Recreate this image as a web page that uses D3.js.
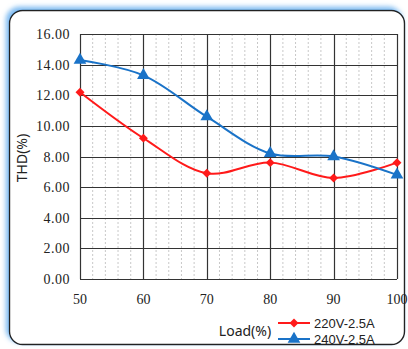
<!DOCTYPE html>
<html lang="en">
<head>
  <meta charset="UTF-8">
  <title>THD vs Load</title>
  <script src="https://d3js.org/d3.v7.min.js"></script>
  <style>
    body { margin: 0; background: #fff; }
    .tick-label { font-family: "Liberation Serif", serif; font-size: 14px; fill: #222; }
    .title { font-family: "Noto Sans", sans-serif; font-size: 14px; fill: #222; }
    .legend-label { font-family: "Liberation Sans", sans-serif; font-size: 13px; fill: #222; }
  </style>
</head>
<body>
  <div id="chart"></div>
  <script>
    const loads = [50, 60, 70, 80, 90, 100];
    const thd220 = [12.2, 9.2, 6.9, 7.6, 6.6, 7.6];
    const thd240 = [14.3, 13.3, 10.6, 8.2, 8.0, 6.8];
    const yTicks = [0, 2, 4, 6, 8, 10, 12, 14, 16];
    const seriesNames = ["220V-2.5A", "240V-2.5A"];

    const W = 408, H = 349;
    const plot = {left: 80, right: 397, top: 34, bottom: 279};

    const svg = d3.select("#chart").append("svg")
      .attr("width", W).attr("height", H);

    const defs = svg.append("defs");
    const glow = defs.append("filter").attr("id", "glow")
      .attr("x", "-10%").attr("y", "-10%").attr("width", "120%").attr("height", "120%");
    glow.append("feDropShadow").attr("dx", -3).attr("dy", -3)
      .attr("stdDeviation", 2.5).attr("flood-color", "#5aa8ee").attr("flood-opacity", 0.8);

    // card
    svg.append("rect")
      .attr("x", 9.5).attr("y", 10.5).attr("width", 395).attr("height", 334)
      .attr("rx", 13).attr("fill", "#fff").attr("stroke", "#222").attr("stroke-width", 1.4)
      .attr("filter", "url(#glow)");

    const x = d3.scaleLinear().domain([50, 100]).range([plot.left, plot.right]);
    const y = d3.scaleLinear().domain([0, 16]).range([plot.bottom, plot.top]);

    // minor dotted verticals
    const minor = d3.range(52, 100, 2).filter(v => v % 10 !== 0);
    svg.append("g").selectAll("line").data(minor).join("line")
      .attr("x1", d => x(d)).attr("x2", d => x(d))
      .attr("y1", plot.top).attr("y2", plot.bottom)
      .attr("stroke", "#c8c8c8").attr("stroke-width", 1)
      .attr("stroke-dasharray", "2,2");

    // major grid
    svg.append("g").selectAll("line").data(yTicks).join("line")
      .attr("x1", plot.left).attr("x2", plot.right)
      .attr("y1", d => Math.round(y(d)) + 0.5).attr("y2", d => Math.round(y(d)) + 0.5)
      .attr("stroke", "#333").attr("stroke-width", 1.2);
    svg.append("g").selectAll("line").data(loads).join("line")
      .attr("x1", d => Math.round(x(d)) + 0.5).attr("x2", d => Math.round(x(d)) + 0.5)
      .attr("y1", plot.top).attr("y2", plot.bottom)
      .attr("stroke", "#333").attr("stroke-width", 1.2);

    // tick labels
    svg.append("g").selectAll("text").data(yTicks).join("text")
      .attr("class", "tick-label")
      .attr("x", 70).attr("y", d => y(d) + 5)
      .attr("text-anchor", "end")
      .attr("letter-spacing", "0.5px")
      .text(d => d.toFixed(2));
    svg.append("g").selectAll("text").data(loads).join("text")
      .attr("class", "tick-label")
      .attr("x", d => x(d)).attr("y", 304)
      .attr("text-anchor", "middle")
      .text(d => d);

    // axis titles
    svg.append("text").attr("class", "title")
      .attr("transform", "translate(27,158) rotate(-90)")
      .attr("text-anchor", "middle").text("THD(%)");
    svg.append("text").attr("class", "title")
      .attr("x", 245).attr("y", 336).attr("text-anchor", "middle").text("Load(%)");

    const line = d3.line()
      .x((d, i) => x(loads[i])).y(d => y(d))
      .curve(d3.curveCatmullRom.alpha(0.5));

    const series = [
      {name: seriesNames[0], values: thd220, color: "#ff1a1a", marker: "diamond"},
      {name: seriesNames[1], values: thd240, color: "#1a73c8", marker: "triangle"}
    ];

    const markerPath = m => m === "diamond"
      ? d3.symbol().type(d3.symbolSquare).size(40)()
      : d3.symbol().type(d3.symbolTriangle).size(70)();
    const markerRot = m => m === "diamond" ? " rotate(45)" : "";

    series.forEach(s => {
      svg.append("path").datum(s.values)
        .attr("d", line).attr("fill", "none")
        .attr("stroke", s.color).attr("stroke-width", 2);
      svg.append("g").selectAll("path").data(s.values).join("path")
        .attr("transform", (d, i) => `translate(${x(loads[i])},${y(d)})${markerRot(s.marker)}`)
        .attr("d", markerPath(s.marker)).attr("fill", s.color);
    });

    // legend
    const leg = svg.append("g").attr("transform", "translate(278,323)");
    series.forEach((s, i) => {
      const g = leg.append("g").attr("transform", `translate(0,${i * 16})`);
      g.append("line").attr("x1", 0).attr("x2", 32).attr("y1", 0).attr("y2", 0)
        .attr("stroke", s.color).attr("stroke-width", 2);
      g.append("path").attr("transform", `translate(16,0)${markerRot(s.marker)}`)
        .attr("d", markerPath(s.marker)).attr("fill", s.color);
      g.append("text").attr("class", "legend-label")
        .attr("x", 36).attr("y", 5).text(s.name);
    });
  </script>
</body>
</html>
